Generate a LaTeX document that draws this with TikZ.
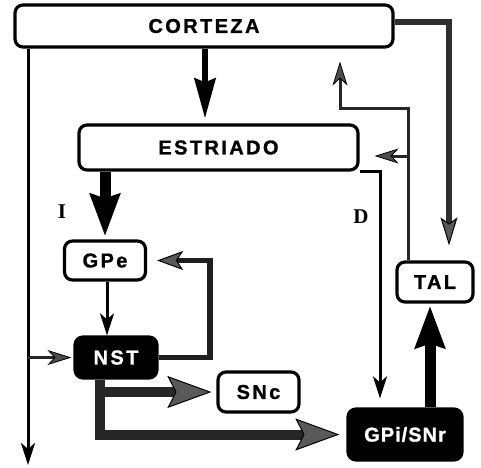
\documentclass[tikz,border=0pt]{standalone}
\usepackage{fontspec}
\setmainfont{Liberation Sans}
\newfontfamily\lblfont[LetterSpace=12,FakeBold=1.2]{Liberation Sans Bold}
\newfontfamily\seriffont{Liberation Serif}
\usetikzlibrary{arrows.meta,calc}
\begin{document}
\begin{tikzpicture}[x=1pt,y=-1pt,
  box/.style={draw=black, line width=3.2pt, rounded corners=8pt, inner sep=0pt, align=center,
    font=\lblfont\fontsize{20}{22}\selectfont},
  darkbox/.style={box, fill=black, text=white},
  lbl/.style={font=\seriffont\bfseries\fontsize{21}{23}\selectfont, inner sep=0pt},
  thinarr/.style={draw=black, line width=3pt, -{Stealth[length=22pt,width=14pt,inset=6pt]}},
  thingray/.style={draw=black!85, line width=3pt, -{Stealth[length=24pt,width=15pt,inset=7pt,fill=black!70,color=black,line width=0.8pt]}},
  thickblk/.style={draw=black, line width=6pt, -{Stealth[length=40pt,width=21pt,inset=4pt]}},
  heavy/.style={draw=black, line width=11pt, -{Stealth[length=42pt,width=29pt,inset=4pt]}},
  grayfb/.style={draw=black!88, line width=5.5pt, -{Stealth[length=26pt,width=19pt,inset=6pt,fill=black!65,color=black,line width=1pt]}},
  grayside/.style={draw=black!82, line width=5.5pt, -{Stealth[length=28pt,width=17pt,inset=6pt,fill=black!65,color=black,line width=1pt]}},
  bigfeed/.style={draw=black!85, line width=10pt, -{Stealth[length=44pt,width=32pt,inset=8pt,fill=black!65,color=black,line width=1pt]}}
]
\useasboundingbox (0,0) rectangle (481,467);

% nodes
\node[box, minimum width=378pt, minimum height=42pt] (cor) at (204,26) {CORTEZA};
\node[box, minimum width=279pt, minimum height=45pt] (est) at (218.5,147.5) {ESTRIADO};
\node[box, minimum width=81pt, minimum height=39pt] (gpe) at (105,260.5) {GPe};
\node[darkbox, minimum width=82pt, minimum height=41pt] (nst) at (116,357.5) {NST};
\node[box, minimum width=81pt, minimum height=40pt] (snc) at (258.5,392) {SNc};
\node[darkbox, minimum width=114pt, minimum height=51pt] (gpi) at (405,434.5) {\addfontfeature{LetterSpace=5}GPi/SNr};
\node[box, minimum width=76pt, minimum height=40pt] (tal) at (435,282) {TAL};
\node[lbl] (lI) at (62,212) {I};
\node[lbl] (lD) at (361,217) {D};

% helper coordinates
\coordinate (xL) at (28,0);
\coordinate (x100) at (100,0);
\coordinate (x105) at (105,0);
\coordinate (x107) at (107,0);
\coordinate (x205) at (205,0);
\coordinate (x210) at (210,0);
\coordinate (x340) at (340,0);
\coordinate (x380) at (380,0);
\coordinate (x408) at (408,0);
\coordinate (x430) at (430,0);
\coordinate (x449) at (449,0);
\coordinate (y22) at (0,22);
\coordinate (y108) at (0,108);
\coordinate (y156) at (0,156);
\coordinate (y465) at (0,465);

% connectors
\draw[thickblk, shorten >=5pt] (cor.south -| x205) -- (est.north -| x205);
\draw[heavy, shorten >=3pt] (est.south -| x105) -- (gpe.north -| x105);
\draw[thinarr] (gpe.south -| x107) -- (nst.north -| x107);
\draw[grayfb, shorten >=10pt] (nst.east) -| (x210 |- gpe.east) -- (gpe.east);
\draw[thinarr] (cor.south -| xL) -- (xL |- y465);
\draw[thingray, shorten >=2pt] (xL |- nst.west) -- (nst.west);
\draw[bigfeed, shorten >=7pt] (nst.south -| x100) |- (gpi.west);
\draw[bigfeed, shorten >=5pt] (nst.south -| x100) |- (snc.west);
\draw[thinarr, shorten >=9pt] (est.south east) -| (gpi.north -| x380);
\draw[heavy, shorten >=2pt] (gpi.north -| x430) -- (tal.south -| x430);
\draw[thingray, shorten >=13pt] (tal.north -| x408) |- (x340 |- y108) -- (cor.south -| x340);
\draw[thingray, shorten >=15pt] (x408 |- y156) -- (est.east |- y156);
\draw[grayside, shorten >=15pt] (cor.east |- y22) -| (tal.north -| x449);
\end{tikzpicture}
\end{document}
